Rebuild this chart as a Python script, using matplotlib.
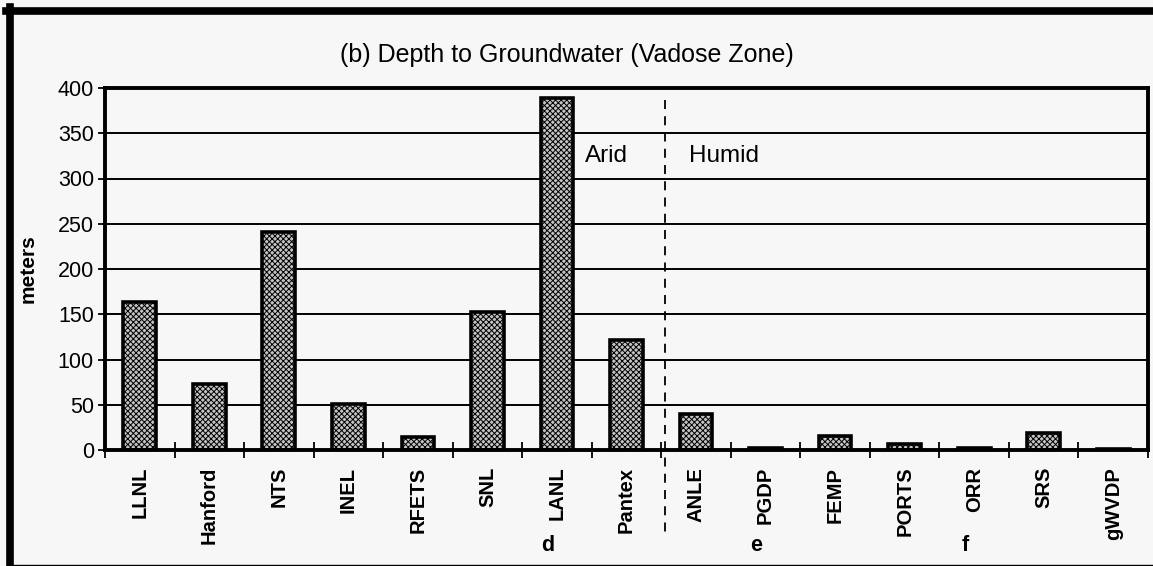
import matplotlib
matplotlib.use("Agg")
import matplotlib.pyplot as plt
from matplotlib.lines import Line2D

sites = ["LLNL", "Hanford", "NTS", "INEL", "RFETS", "SNL", "LANL", "Pantex",
         "ANLE", "PGDP", "FEMP", "PORTS", "ORR", "SRS", "gWVDP"]
depth_m = [163, 73, 241, 51, 14, 152, 389, 122, 40, 2, 16, 7, 2, 19, 1]
footnotes = {"LANL": "d", "PGDP": "e", "ORR": "f"}
yticks = [0, 50, 100, 150, 200, 250, 300, 350, 400]

plt.rcParams["font.family"] = ["Liberation Sans", "DejaVu Sans"]
plt.rcParams["hatch.linewidth"] = 0.7
plt.rcParams["hatch.color"] = "#505050"

bg = "#f6f7f6"
W, H = 1153, 566
fig = plt.figure(figsize=(W / 100, H / 100), dpi=100, facecolor=bg)
ax = fig.add_axes([105 / W, 1 - 450 / H, (1148 - 105) / W, (450 - 88) / H])
ax.set_facecolor(bg)

x = list(range(len(sites)))
ax.bar(x, depth_m, width=0.47, color="#c4c4c4", edgecolor="black",
       linewidth=2.6, hatch="xxxxxx", zorder=3)

ax.set_xlim(-0.5, len(sites) - 0.5)
ax.set_ylim(0, 400)
ax.set_yticks(yticks)
ax.set_yticklabels([str(v) for v in yticks], fontsize=15.5)
ax.yaxis.grid(True, color="black", linewidth=1.4, zorder=1)
ax.set_axisbelow(True)
ax.tick_params(axis="y", direction="out", length=5, width=1.3, pad=3)

ax.set_xticks(x)
ax.set_xticklabels(sites, rotation=90, fontsize=14.5, fontweight="bold", va="top")
ax.tick_params(axis="x", which="major", length=0, pad=12)
ax.set_xticks([i - 0.5 for i in range(len(sites) + 1)], minor=True)
ax.tick_params(axis="x", which="minor", direction="inout", length=11, width=1.3)

for s in ax.spines.values():
    s.set_linewidth(2.8)
    s.set_zorder(4)

ax.set_ylabel("meters", fontsize=15, fontweight="bold")
ax.yaxis.set_label_coords(-67 / 1043, 0.5)

trans = ax.get_xaxis_transform()
for name, letter in footnotes.items():
    i = sites.index(name)
    ax.text(i - 0.13, -0.265, letter, transform=trans, fontsize=15.5,
            fontweight="bold", ha="center", va="center")

# arid / humid divider
ax.add_line(Line2D([7.55, 7.55], [0.967, -0.24], transform=trans,
                   color="black", linewidth=1.3, linestyle=(0, (5, 4)),
                   clip_on=False, zorder=5))
ax.text(6.4, 325, "Arid", fontsize=17.5, va="center", ha="left", zorder=5)
ax.text(7.9, 325, "Humid", fontsize=17.5, va="center", ha="left", zorder=5)

fig.text(567 / W, 1 - 55 / H, "(b) Depth to Groundwater (Vadose Zone)",
         fontsize=18, ha="center", va="center")

# outer frame of the scanned figure
fig.add_artist(Line2D([9.5 / W, 9.5 / W], [1 - 7 / H, 1 - 565 / H],
                      transform=fig.transFigure, color="black", linewidth=5.5))
fig.add_artist(Line2D([6 / W, 1.0], [1 - 10.5 / H, 1 - 10.5 / H],
                      transform=fig.transFigure, color="black", linewidth=5.5))
fig.add_artist(Line2D([9.5 / W, 1.0], [1 - 564.5 / H, 1 - 564.5 / H],
                      transform=fig.transFigure, color="black", linewidth=1.0))

fig.savefig("out.png", dpi=100, facecolor=bg)
